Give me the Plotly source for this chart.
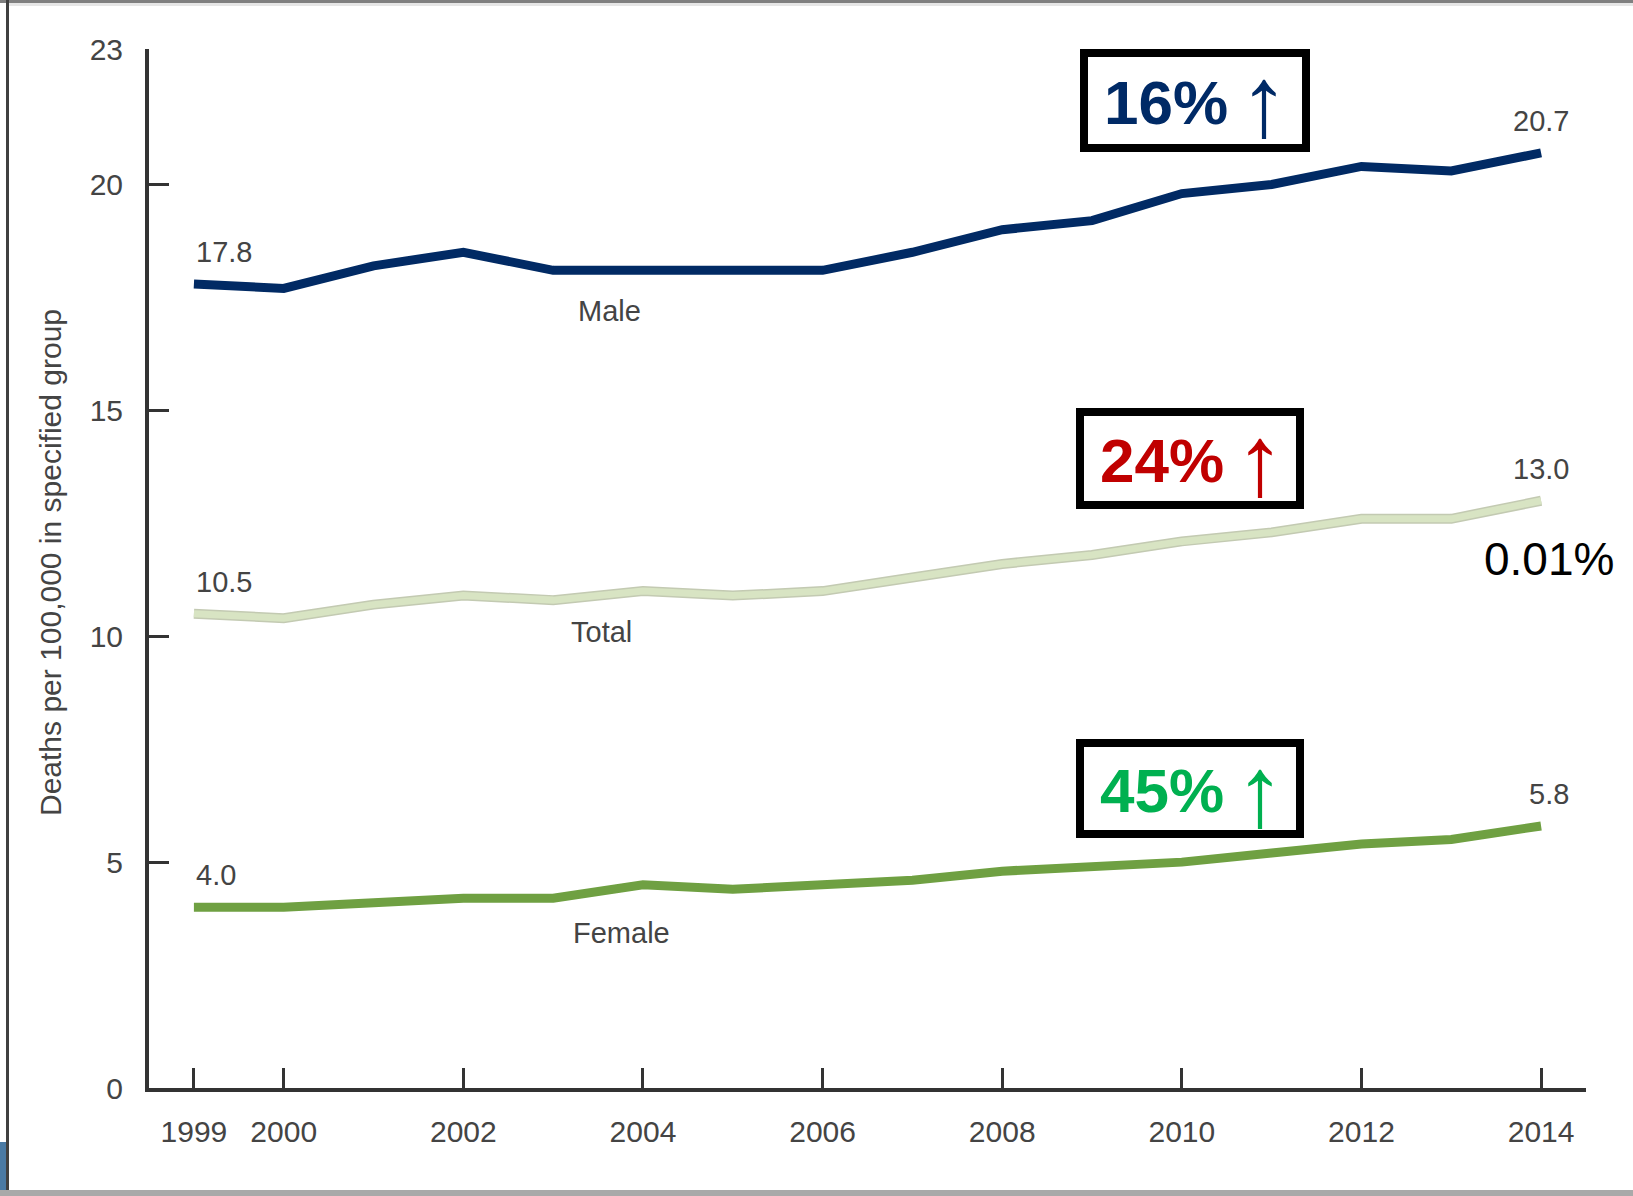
import plotly.graph_objects as go

# Suicide death rates per 100,000, 1999-2014
years = list(range(1999, 2015))
male = [17.8, 17.7, 18.2, 18.5, 18.1, 18.1, 18.1, 18.1, 18.5, 19.0, 19.2, 19.8, 20.0, 20.4, 20.3, 20.7]
total = [10.5, 10.4, 10.7, 10.9, 10.8, 11.0, 10.9, 11.0, 11.3, 11.6, 11.8, 12.1, 12.3, 12.6, 12.6, 13.0]
female = [4.0, 4.0, 4.1, 4.2, 4.2, 4.5, 4.4, 4.5, 4.6, 4.8, 4.9, 5.0, 5.2, 5.4, 5.5, 5.8]

x_ticks = [1999, 2000, 2002, 2004, 2006, 2008, 2010, 2012, 2014]
y_ticks = [0, 5, 10, 15, 20, 23]

change_labels = ["16%", "24%", "45%"]
change_colors = ["#002a66", "#c00000", "#00b050"]

W, H = 1633, 1196
ML, MR, MT, MB = 149, 47, 49, 108
PW, PH = W - ML - MR, H - MT - MB

FONT = "Liberation Sans, Arial, sans-serif"
TXT = "#444444"


def px_x(x):
    return (x - ML) / PW


def px_y(y):
    return (H - MB - y) / PH


fig = go.Figure()

fig.add_trace(go.Scatter(x=years, y=male, mode="lines",
                         line=dict(color="#012a64", width=9), hoverinfo="skip"))
fig.add_trace(go.Scatter(x=years, y=total, mode="lines",
                         line=dict(color="#c3cab2", width=10), hoverinfo="skip"))
fig.add_trace(go.Scatter(x=years, y=total, mode="lines",
                         line=dict(color="#d8e4c3", width=7), hoverinfo="skip"))
fig.add_trace(go.Scatter(x=years, y=female, mode="lines",
                         line=dict(color="#6fa042", width=9), hoverinfo="skip"))

annotations = []

# value labels at the first and last year
for series in (male, total, female):
    annotations.append(dict(x=years[0], y=series[0], xref="x", yref="y",
                            text=f"{series[0]:.1f}", showarrow=False,
                            xanchor="left", yanchor="middle", xshift=0, yshift=32,
                            font=dict(family=FONT, size=29, color=TXT)))
    annotations.append(dict(x=years[-1], y=series[-1], xref="x", yref="y",
                            text=f"{series[-1]:.1f}", showarrow=False,
                            xanchor="right", yanchor="middle", xshift=30, yshift=32,
                            font=dict(family=FONT, size=29, color=TXT)))

# series names
for name, (lx, ly) in zip(["Male", "Total", "Female"],
                          [(609, 311), (601, 632), (621, 933)]):
    annotations.append(dict(x=px_x(lx), y=px_y(ly), xref="paper", yref="paper",
                            text=name, showarrow=False, xanchor="center", yanchor="middle",
                            font=dict(family=FONT, size=29, color=TXT)))

# y-axis title
annotations.append(dict(x=px_x(50), y=px_y(563), xref="paper", yref="paper",
                        text="Deaths per 100,000 in specified group", textangle=-90,
                        showarrow=False, xanchor="center", yanchor="middle",
                        font=dict(family=FONT, size=30, color=TXT)))

annotations.append(dict(x=px_x(1549), y=px_y(559), xref="paper", yref="paper",
                        text="0.01%", showarrow=False, xanchor="center", yanchor="middle",
                        font=dict(family=FONT, size=46, color="#000000")))

shapes = []

# percentage-change callout boxes
boxes = [(1080, 49, 1310, 152), (1076, 408, 1304, 509), (1076, 739, 1304, 838)]
for (x0, y0, x1, y1), lab, col in zip(boxes, change_labels, change_colors):
    shapes.append(dict(type="rect", xref="paper", yref="paper",
                       x0=px_x(x0 + 4), x1=px_x(x1 - 4), y0=px_y(y0 + 4), y1=px_y(y1 - 4),
                       line=dict(color="#000000", width=8), fillcolor="rgba(0,0,0,0)"))
    annotations.append(dict(x=px_x(x0 + 86), y=px_y((y0 + y1) / 2 + 2),
                            xref="paper", yref="paper", text=f"<b>{lab}</b>",
                            showarrow=False, xanchor="center", yanchor="middle",
                            font=dict(family=FONT, size=62, color=col)))
    annotations.append(dict(x=px_x(x0 + 184), y=px_y(y0 + 52),
                            xref="paper", yref="paper", text="↑",
                            showarrow=False, xanchor="center", yanchor="middle",
                            font=dict(family=FONT, size=100, color=col)))

# outer frame
shapes.append(dict(type="line", xref="paper", yref="paper",
                   x0=px_x(0), x1=px_x(W), y0=px_y(1.5), y1=px_y(1.5),
                   line=dict(color="#808080", width=3)))
shapes.append(dict(type="line", xref="paper", yref="paper",
                   x0=px_x(9), x1=px_x(W), y0=px_y(4.5), y1=px_y(4.5),
                   line=dict(color="#e6e6e6", width=3)))
shapes.append(dict(type="line", xref="paper", yref="paper",
                   x0=px_x(0), x1=px_x(W), y0=px_y(1193), y1=px_y(1193),
                   line=dict(color="#a9a9a9", width=6)))
shapes.append(dict(type="line", xref="paper", yref="paper",
                   x0=px_x(7.5), x1=px_x(7.5), y0=px_y(0), y1=px_y(1190),
                   line=dict(color="#404040", width=3)))
shapes.append(dict(type="rect", xref="paper", yref="paper",
                   x0=px_x(0), x1=px_x(6), y0=px_y(1142), y1=px_y(1190),
                   line=dict(width=0), fillcolor="#4a7aa4"))

fig.update_layout(
    width=W, height=H,
    margin=dict(l=ML, r=MR, t=MT, b=MB, pad=0),
    paper_bgcolor="white", plot_bgcolor="white",
    showlegend=False,
    annotations=annotations,
    shapes=shapes,
    xaxis=dict(range=[1998.5, 2014.5], tickvals=x_ticks, ticktext=[str(v) for v in x_ticks],
               showgrid=False, zeroline=False, showline=True, linewidth=4, linecolor="#333333",
               ticks="inside", ticklen=20, tickwidth=3, tickcolor="#333333",
               ticklabelstandoff=14,
               tickfont=dict(family=FONT, size=30, color=TXT), fixedrange=True),
    yaxis=dict(range=[0, 23], tickvals=y_ticks, ticktext=[str(v) for v in y_ticks],
               showgrid=False, zeroline=False, showline=True, linewidth=4, linecolor="#333333",
               ticks="inside", ticklen=20, tickwidth=3, tickcolor="#333333",
               ticklabelstandoff=16,
               tickfont=dict(family=FONT, size=30, color=TXT), fixedrange=True),
)

fig.write_html("out.html", config={"displayModeBar": False})
